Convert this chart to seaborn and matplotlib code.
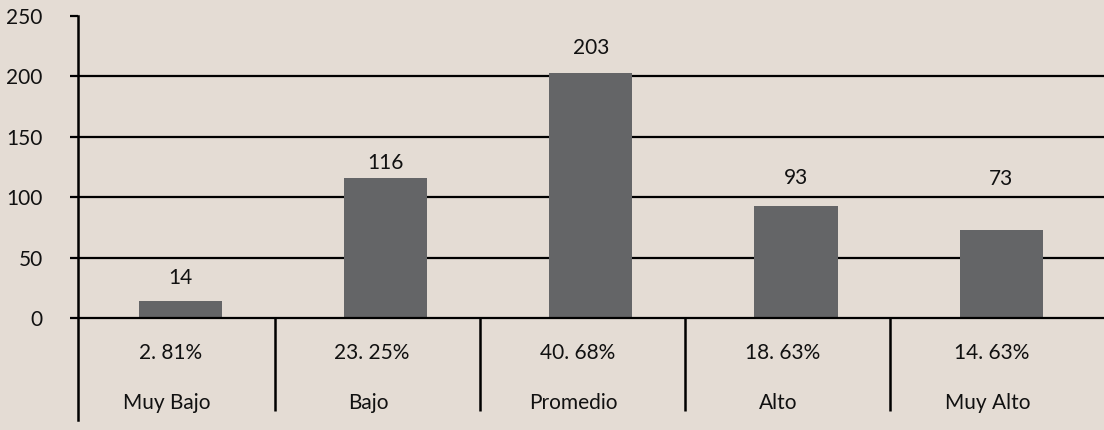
import numpy as np
import pandas as pd
import matplotlib
matplotlib.use("Agg")
import matplotlib.pyplot as plt
import seaborn as sns

# data
categories = ["Muy Bajo", "Bajo", "Promedio", "Alto", "Muy Alto"]
counts = [14, 116, 203, 93, 73]
percent_labels = ["2. 81%", "23. 25%", "40. 68%", "18. 63%", "14. 63%"]

# styling only: where each count label sits above its bar (data units)
label_pad = [19, 12.6, 20.3, 23, 42.2]

bg = "#e4dcd4"
bar_col = "#646567"

sns.set_style("white")
plt.rcParams["font.family"] = ["Lato", "DejaVu Sans"]

df = pd.DataFrame({"cat": categories, "n": counts})

fig = plt.figure(figsize=(11.04, 4.30), dpi=100, facecolor=bg)
ax = fig.add_axes([77.5 / 1104, 10 / 430, 1 - 77.5 / 1104, 404 / 430])
ax.set_facecolor(bg)

sns.barplot(data=df, x="cat", y="n", color=bar_col, width=0.405,
            saturation=1, linewidth=0, edgecolor="none", ax=ax, zorder=3)

ax.set_xlim(-0.5, 4.5)
ax.set_ylim(-84, 250)

# grid lines (no line at 250) and the zero line
for v in [50, 100, 150, 200]:
    ax.axhline(v, color="black", lw=1.6, zorder=2)
ax.axhline(0, color="black", lw=1.6, zorder=4)

# count labels above the bars
for i, (v, p) in enumerate(zip(counts, label_pad)):
    ax.text(i, v + p, str(v), ha="center", va="center", fontsize=15, color="#111111")

# table-like area under the axis
seps = [i + 0.46 for i in range(4)]
for s in seps:
    ax.plot([s, s], [0, -76.5], color="black", lw=1.8, zorder=4, solid_capstyle="butt")
edges = [-0.5] + seps + [4.5]
for i in range(5):
    cx = (edges[i] + edges[i + 1]) / 2 - 0.025
    ax.text(cx, -28.8, percent_labels[i], ha="center", va="center", fontsize=15, color="#111111")
    ax.text(cx - 0.02, -70, categories[i], ha="center", va="center", fontsize=15, color="#111111")

ax.set_xticks([])
ax.set_yticks([0, 50, 100, 150, 200, 250])
ax.tick_params(axis="y", direction="out", length=6, width=1.6, pad=19,
               labelsize=15, color="black", labelcolor="#111111", left=True)
ax.set_xlabel("")
ax.set_ylabel("")
for s in ["top", "right", "bottom"]:
    ax.spines[s].set_visible(False)
ax.spines["left"].set_color("black")
ax.spines["left"].set_linewidth(1.8)
ax.spines["left"].set_zorder(5)

fig.savefig("out.png", dpi=100, facecolor=bg)
